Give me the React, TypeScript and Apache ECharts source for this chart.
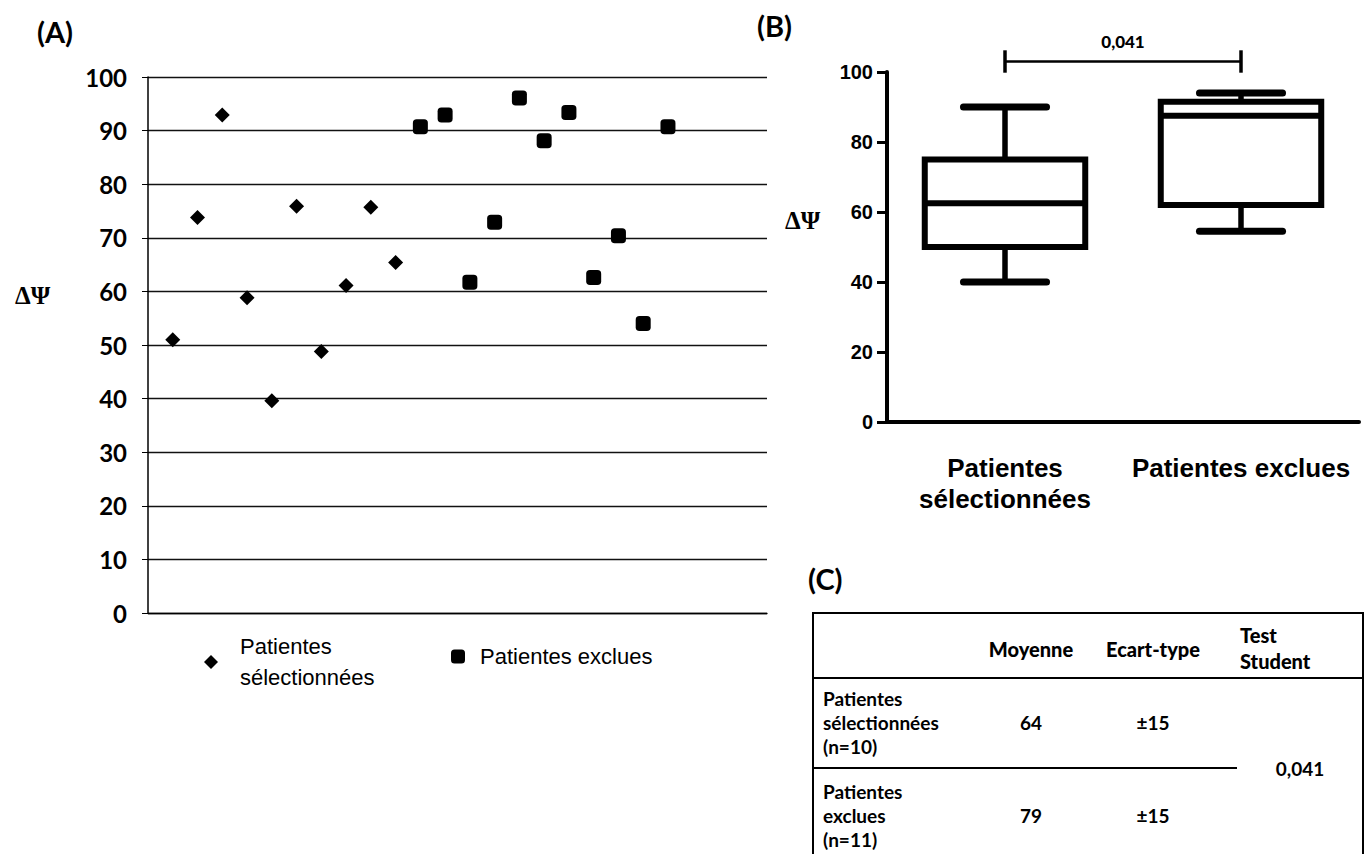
import React, { useEffect, useRef } from 'react';
import * as echarts from 'echarts';

// ---- Panel A : individual values ----
const selectedX = [1, 2, 3, 4, 5, 6, 7, 8, 9, 10];
const selectedY = [51, 73.8, 92.9, 58.8, 39.6, 75.9, 48.8, 61.1, 75.7, 65.4];
const excludedX = [11, 12, 13, 14, 15, 16, 17, 18, 19, 20, 21];
const excludedY = [90.7, 92.9, 61.7, 72.9, 96.1, 88.1, 93.4, 62.6, 70.4, 54, 90.7];
const seriesNames = ['Patientes sélectionnées', 'Patientes exclues'];

// ---- Panel B : box plot ----
const boxCategories = ['Patientes\nsélectionnées', 'Patientes exclues'];
const boxMin = [40, 54.5];
const boxQ1 = [50, 62];
const boxMedian = [62.5, 87.5];
const boxQ3 = [75, 91.5];
const boxMax = [90, 94];
const pValue = '0,041';
const bracketFrom = 0;
const bracketTo = 1;
const bracketLevel = 103;

// ---- Panel C : table ----
const tableHeaders = ['Moyenne', 'Ecart-type', 'Test\nStudent'];
const tableRowLabels = ['Patientes\nsélectionnées\n(n=10)', 'Patientes\nexclues\n(n=11)'];
const tableMeans = ['64', '79'];
const tableSD = ['±15', '±15'];
const tableTest = '0,041';

const TF = 'Lato';

export default function App() {
  const ref = useRef<HTMLDivElement>(null);
  useEffect(() => {
    if (!ref.current) return;
    const chart = echarts.init(ref.current, null, { renderer: 'svg' });

    const boxData = boxCategories.map((_, i) => [i, boxMin[i], boxQ1[i], boxMedian[i], boxQ3[i], boxMax[i]]);

    const renderBox = (params: any, api: any) => {
      const cat = api.value(0);
      const pMin = api.coord([cat, api.value(1)]);
      const pQ1 = api.coord([cat, api.value(2)]);
      const pMed = api.coord([cat, api.value(3)]);
      const pQ3 = api.coord([cat, api.value(4)]);
      const pMax = api.coord([cat, api.value(5)]);
      const band = api.size([1, 0])[0];
      const half = band * 0.34;
      const capHalf = band * 0.176;
      const cx = pMed[0];
      const stroke = { stroke: '#000', lineWidth: 5.5 };
      return {
        type: 'group',
        children: [
          { type: 'line', shape: { x1: cx, y1: pQ3[1], x2: cx, y2: pMax[1] }, style: stroke },
          { type: 'line', shape: { x1: cx, y1: pQ1[1], x2: cx, y2: pMin[1] }, style: stroke },
          { type: 'line', shape: { x1: cx - capHalf, y1: pMax[1], x2: cx + capHalf, y2: pMax[1] }, style: { stroke: '#000', lineWidth: 7, lineCap: 'round' } },
          { type: 'line', shape: { x1: cx - capHalf, y1: pMin[1], x2: cx + capHalf, y2: pMin[1] }, style: { stroke: '#000', lineWidth: 7, lineCap: 'round' } },
          { type: 'rect', shape: { x: cx - half, y: pQ3[1], width: half * 2, height: pQ1[1] - pQ3[1] }, style: { fill: '#fff', stroke: '#000', lineWidth: 6 } },
          { type: 'line', shape: { x1: cx - half, y1: pMed[1], x2: cx + half, y2: pMed[1] }, style: { stroke: '#000', lineWidth: 6 } },
        ],
      };
    };

    const renderBracket = (params: any, api: any) => {
      const a = api.coord([api.value(0), api.value(2)]);
      const b = api.coord([api.value(1), api.value(2)]);
      const up = api.coord([api.value(0), api.value(2) + 3.2])[1];
      const dn = api.coord([api.value(0), api.value(2) - 3.2])[1];
      return {
        type: 'group',
        children: [
          { type: 'line', shape: { x1: a[0], y1: a[1], x2: b[0], y2: b[1] }, style: { stroke: '#000', lineWidth: 2.5 } },
          { type: 'line', shape: { x1: a[0], y1: up, x2: a[0], y2: dn }, style: { stroke: '#000', lineWidth: 3.5 } },
          { type: 'line', shape: { x1: b[0], y1: up, x2: b[0], y2: dn }, style: { stroke: '#000', lineWidth: 3.5 } },
          { type: 'text', x: (a[0] + b[0]) / 2, y: a[1] - 20, style: { text: pValue, align: 'center', verticalAlign: 'middle', fontFamily: TF, fontWeight: 900, fontSize: 17, fill: '#000' } },
        ],
      };
    };

    // table geometry
    const tL = 813, tT = 613, tR = 1363, tHead = 678, tMid = 768, tMidEnd = 1237;
    const colX = [1031, 1153];
    const rowY = [722, 815];
    const tableFont = { fontFamily: TF, fontWeight: 'bold', fontSize: 19, fill: '#000' };
    const headFont = { fontFamily: TF, fontWeight: 900, fontSize: 20, fill: '#000' };

    const graphic: any[] = [
      { type: 'text', left: 37, top: 17, style: { text: '(A)', fontFamily: TF, fontWeight: 'bold', fontSize: 29, fill: '#000' } },
      { type: 'text', left: 757, top: 11, style: { text: '(B)', fontFamily: TF, fontWeight: 'bold', fontSize: 29, fill: '#000' } },
      { type: 'text', left: 808, top: 564, style: { text: '(C)', fontFamily: TF, fontWeight: 'bold', fontSize: 29, fill: '#000' } },
      { type: 'text', x: 15, y: 295, style: { text: 'ΔΨ', fontFamily: 'Liberation Serif', fontWeight: 'bold', fontSize: 25, fill: '#000', verticalAlign: 'middle' } },
      { type: 'text', x: 785, y: 220, style: { text: 'ΔΨ', fontFamily: 'Liberation Serif', fontWeight: 'bold', fontSize: 25, fill: '#000', verticalAlign: 'middle' } },
      // table
      { type: 'rect', shape: { x: tL, y: tT, width: tR - tL, height: 300 }, style: { fill: 'none', stroke: '#000', lineWidth: 2 } },
      { type: 'line', shape: { x1: tL, y1: tHead, x2: tR, y2: tHead }, style: { stroke: '#000', lineWidth: 2 } },
      { type: 'line', shape: { x1: tL, y1: tMid, x2: tMidEnd, y2: tMid }, style: { stroke: '#000', lineWidth: 2 } },
      { type: 'text', x: colX[0], y: 649, style: { ...headFont, text: tableHeaders[0], align: 'center', verticalAlign: 'middle' } },
      { type: 'text', x: colX[1], y: 649, style: { ...headFont, text: tableHeaders[1], align: 'center', verticalAlign: 'middle' } },
      { type: 'text', x: 1240, y: 648, style: { ...headFont, text: tableHeaders[2], align: 'left', verticalAlign: 'middle', lineHeight: 26 } },
      { type: 'text', x: 1300, y: tMid, style: { ...tableFont, text: tableTest, align: 'center', verticalAlign: 'middle' } },
    ];
    tableRowLabels.forEach((lab, i) => {
      graphic.push({ type: 'text', x: 823, y: rowY[i], style: { ...tableFont, text: lab, align: 'left', verticalAlign: 'middle', lineHeight: 24 } });
      graphic.push({ type: 'text', x: colX[0], y: rowY[i], style: { ...tableFont, text: tableMeans[i], align: 'center', verticalAlign: 'middle' } });
      graphic.push({ type: 'text', x: colX[1], y: rowY[i], style: { ...tableFont, text: tableSD[i], align: 'center', verticalAlign: 'middle' } });
    });

    const option: any = {
      animation: false,
      backgroundColor: '#fff',
      grid: [
        { left: 148, top: 77, width: 619, height: 536 },
        { left: 887, top: 72, width: 472, height: 350 },
      ],
      legend: [
        {
          left: 204, top: 631, padding: 0, data: [seriesNames[0]], icon: 'diamond', itemWidth: 14, itemHeight: 14,
          formatter: () => 'Patientes\nsélectionnées',
          itemStyle: { color: '#000', opacity: 1 },
          textStyle: { fontFamily: 'Liberation Sans', fontSize: 22, lineHeight: 31, color: '#000', padding: [0, 0, 0, 17] },
        },
        {
          left: 451, top: 641, padding: 0, data: [seriesNames[1]], icon: 'roundRect', itemWidth: 14, itemHeight: 14,
          itemStyle: { color: '#000', opacity: 1 },
          textStyle: { fontFamily: 'Liberation Sans', fontSize: 22, lineHeight: 31, color: '#000', padding: [0, 0, 0, 10] },
        },
      ],
      xAxis: [
        { type: 'value', gridIndex: 0, min: 0, max: 25, axisLabel: { show: false }, axisTick: { show: false }, splitLine: { show: false }, axisLine: { show: true, lineStyle: { color: '#000', width: 1.3 } } },
        {
          type: 'category', gridIndex: 1, data: boxCategories,
          axisLine: { lineStyle: { color: '#000', width: 4 } },
          axisTick: { alignWithLabel: true, length: 10, lineStyle: { color: '#000', width: 3 } },
          axisLabel: { interval: 0, margin: 30, fontFamily: 'Liberation Sans', fontWeight: 'bold', fontSize: 26, lineHeight: 31, color: '#000' },
        },
      ],
      yAxis: [
        {
          type: 'value', gridIndex: 0, min: 0, max: 100, interval: 10,
          axisLine: { show: true, lineStyle: { color: '#000', width: 1.5 } },
          axisTick: { show: true, length: 6, lineStyle: { color: '#000' } },
          axisLabel: { margin: 21, fontFamily: TF, fontWeight: 'bold', fontSize: 24, color: '#000' },
          splitLine: { show: true, lineStyle: { color: '#111', width: 1.3 } },
        },
        {
          type: 'value', gridIndex: 1, min: 0, max: 100, interval: 20,
          axisLine: { show: true, lineStyle: { color: '#000', width: 4 } },
          axisTick: { show: true, length: 10, lineStyle: { color: '#000', width: 3 } },
          axisLabel: { margin: 14, fontFamily: 'Liberation Sans', fontWeight: 'bold', fontSize: 20, color: '#000' },
          splitLine: { show: false },
        },
      ],
      series: [
        { type: 'scatter', name: seriesNames[0], xAxisIndex: 0, yAxisIndex: 0, data: selectedX.map((x, i) => [x, selectedY[i]]), symbol: 'diamond', symbolSize: 15, itemStyle: { color: '#000', opacity: 1 } },
        { type: 'scatter', name: seriesNames[1], xAxisIndex: 0, yAxisIndex: 0, data: excludedX.map((x, i) => [x, excludedY[i]]), symbol: 'roundRect', symbolSize: 15, itemStyle: { color: '#000', opacity: 1 } },
        { type: 'custom', xAxisIndex: 1, yAxisIndex: 1, data: boxData, encode: { x: 0, y: [1, 2, 3, 4, 5] }, renderItem: renderBox, z: 5 },
        { type: 'custom', xAxisIndex: 1, yAxisIndex: 1, data: [[bracketFrom, bracketTo, bracketLevel]], encode: { x: [0, 1], y: 2 }, renderItem: renderBracket, clip: false, z: 5 },
      ],
      graphic,
    };
    chart.setOption(option);
    return () => chart.dispose();
  }, []);
  return <div ref={ref} style={{ position: 'fixed', left: 0, top: 0, width: 1366, height: 854, background: '#fff' }} />;
}
